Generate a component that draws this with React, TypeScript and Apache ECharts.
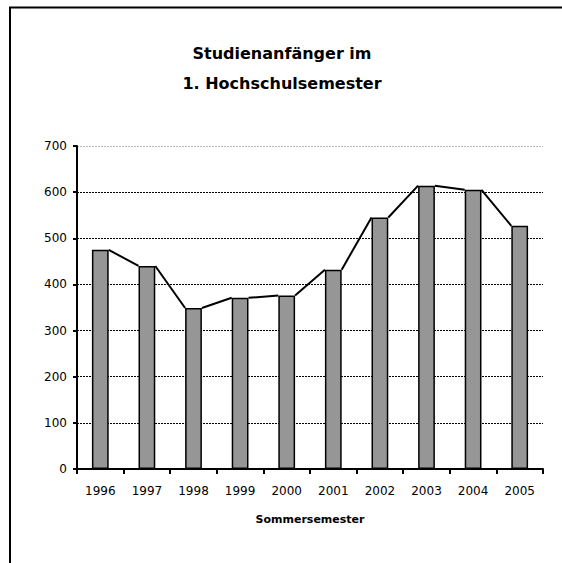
import React, { useEffect, useRef } from "react";
import * as echarts from "echarts";

const years = ["1996", "1997", "1998", "1999", "2000", "2001", "2002", "2003", "2004", "2005"];
const students = [475, 440, 349, 371, 376, 432, 545, 614, 605, 527];
const titleLines = ["Studienanfänger im", "1. Hochschulsemester"];
const xAxisTitle = "Sommersemester";
const BAR_RATIO = 0.36;

export default function App() {
  const ref = useRef<HTMLDivElement>(null);
  useEffect(() => {
    document.body.style.margin = "0";
    const chart = echarts.init(ref.current!, null, { renderer: "svg" });
    const links = students.slice(0, -1).map((v, i) => [i, v, students[i + 1]]);
    chart.setOption({
      animation: false,
      backgroundColor: "#fff",
      textStyle: { fontFamily: "DejaVu Sans" },
      title: {
        text: titleLines.join("\n"),
        left: 277,
        top: 33,
        textAlign: "center",
        textStyle: { fontFamily: "DejaVu Sans", fontWeight: "bold", fontSize: 16, color: "#000", lineHeight: 30 },
      },
      graphic: [
        {
          type: "rect",
          z: -1,
          shape: { x: 10, y: 7.5, width: 700, height: 700 },
          style: { fill: "none", stroke: "#000", lineWidth: 2 },
        },
      ],
      grid: { left: 77, right: 19, top: 146, bottom: 94, containLabel: false },
      xAxis: {
        type: "category",
        data: years,
        boundaryGap: true,
        axisLine: { lineStyle: { color: "#000", width: 2 } },
        axisTick: { show: true, length: 5, lineStyle: { color: "#000", width: 2 } },
        axisLabel: { color: "#000", fontSize: 12, margin: 16, fontFamily: "DejaVu Sans" },
        name: xAxisTitle,
        nameLocation: "middle",
        nameGap: 45,
        nameTextStyle: { color: "#000", fontSize: 11, fontWeight: "bold", fontFamily: "DejaVu Sans", verticalAlign: "top" },
      },
      yAxis: {
        type: "value",
        min: 0,
        max: 700,
        interval: 100,
        axisLine: { show: true, lineStyle: { color: "#000", width: 2 } },
        axisTick: { show: true, length: 4, lineStyle: { color: "#000", width: 2 } },
        axisLabel: { color: "#000", fontSize: 12, margin: 10, fontFamily: "DejaVu Sans" },
        splitLine: {
          show: true,
          lineStyle: {
            color: ["#000", "#000", "#000", "#000", "#000", "#000", "#000", "#bbb"],
            type: [2, 1],
            width: 1.2,
          },
        },
      },
      series: [
        {
          type: "bar",
          data: students,
          barWidth: BAR_RATIO * 100 + "%",
          itemStyle: { color: "#969696", borderColor: "#000", borderWidth: 1.5 },
          z: 2,
        },
        {
          type: "custom",
          data: links,
          encode: { x: 0, y: 1 },
          z: 3,
          renderItem: (params: any, api: any) => {
            const i = api.value(0);
            const p1 = api.coord([i, api.value(1)]);
            const p2 = api.coord([i + 1, api.value(2)]);
            const hw = (api.size([1, 0])[0] * BAR_RATIO) / 2;
            return {
              type: "line",
              shape: { x1: p1[0] + hw, y1: p1[1], x2: p2[0] - hw, y2: p2[1] },
              style: { stroke: "#000", lineWidth: 2 },
            };
          },
        },
      ],
    });
    return () => chart.dispose();
  }, []);
  return <div ref={ref} style={{ width: 562, height: 563 }} />;
}
